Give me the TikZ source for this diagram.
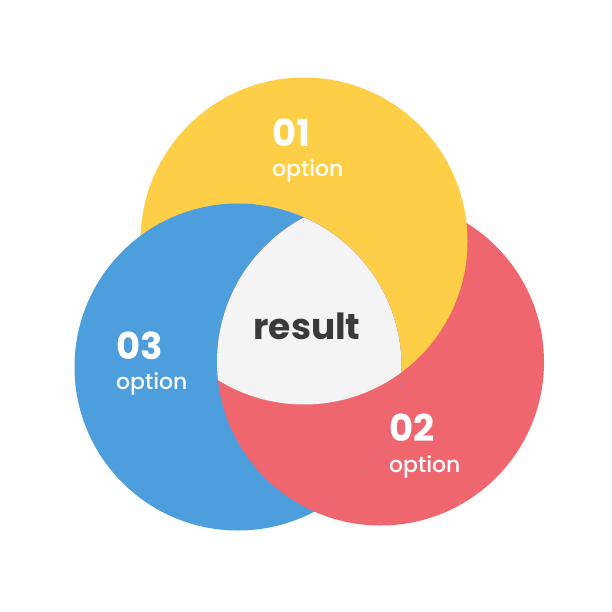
\documentclass[tikz,border=0pt]{standalone}
\usepackage{fontspec}
\setmainfont{Poppins}
\newfontfamily\popmed{Poppins}[UprightFont=* Medium]
\definecolor{cyel}{HTML}{FDCE46}
\definecolor{cred}{HTML}{EF666E}
\definecolor{cblu}{HTML}{4D9EDC}
\definecolor{cgry}{HTML}{F4F4F4}
\definecolor{ctxt}{HTML}{3A3A3A}
\tikzset{
  num/.style={anchor=base west, inner sep=0pt, text=white, font=\bfseries\fontsize{37}{37}\selectfont},
  opt/.style={anchor=base west, inner sep=0pt, text=white, font=\popmed\fontsize{22}{22}\selectfont},
  res/.style={anchor=base, inner sep=0pt, text=ctxt, font=\bfseries\fontsize{36}{36}\selectfont}
}
\begin{document}
\begin{tikzpicture}[x=1pt,y=-1pt]
\useasboundingbox[fill=white] (0,0) rectangle (612,612);
\coordinate (Y) at (304,241);
\coordinate (R) at (380.5,362);
\coordinate (B) at (238,367);
\def\rad{163.5}
\fill[cred] (R) circle[radius=\rad];
\fill[cyel] (Y) circle[radius=\rad];
\fill[cblu] (B) circle[radius=\rad];
\begin{scope}
  \clip (B) circle[radius=\rad];
  \fill[cred] (R) circle[radius=\rad];
  \clip (R) circle[radius=\rad];
  \fill[cgry] (Y) circle[radius=\rad];
\end{scope}
\node[num] (n1) at (272,147) {01};
\node[opt] (o1) at (272,177) {option};
\node[num] (n3) at (116,359) {03};
\node[opt] (o3) at (116,389) {option};
\node[num] (n2) at (389,441.5) {02};
\node[opt] (o2) at (389,472) {option};
\node[res] (res) at (307,339) {result};
\end{tikzpicture}
\end{document}
